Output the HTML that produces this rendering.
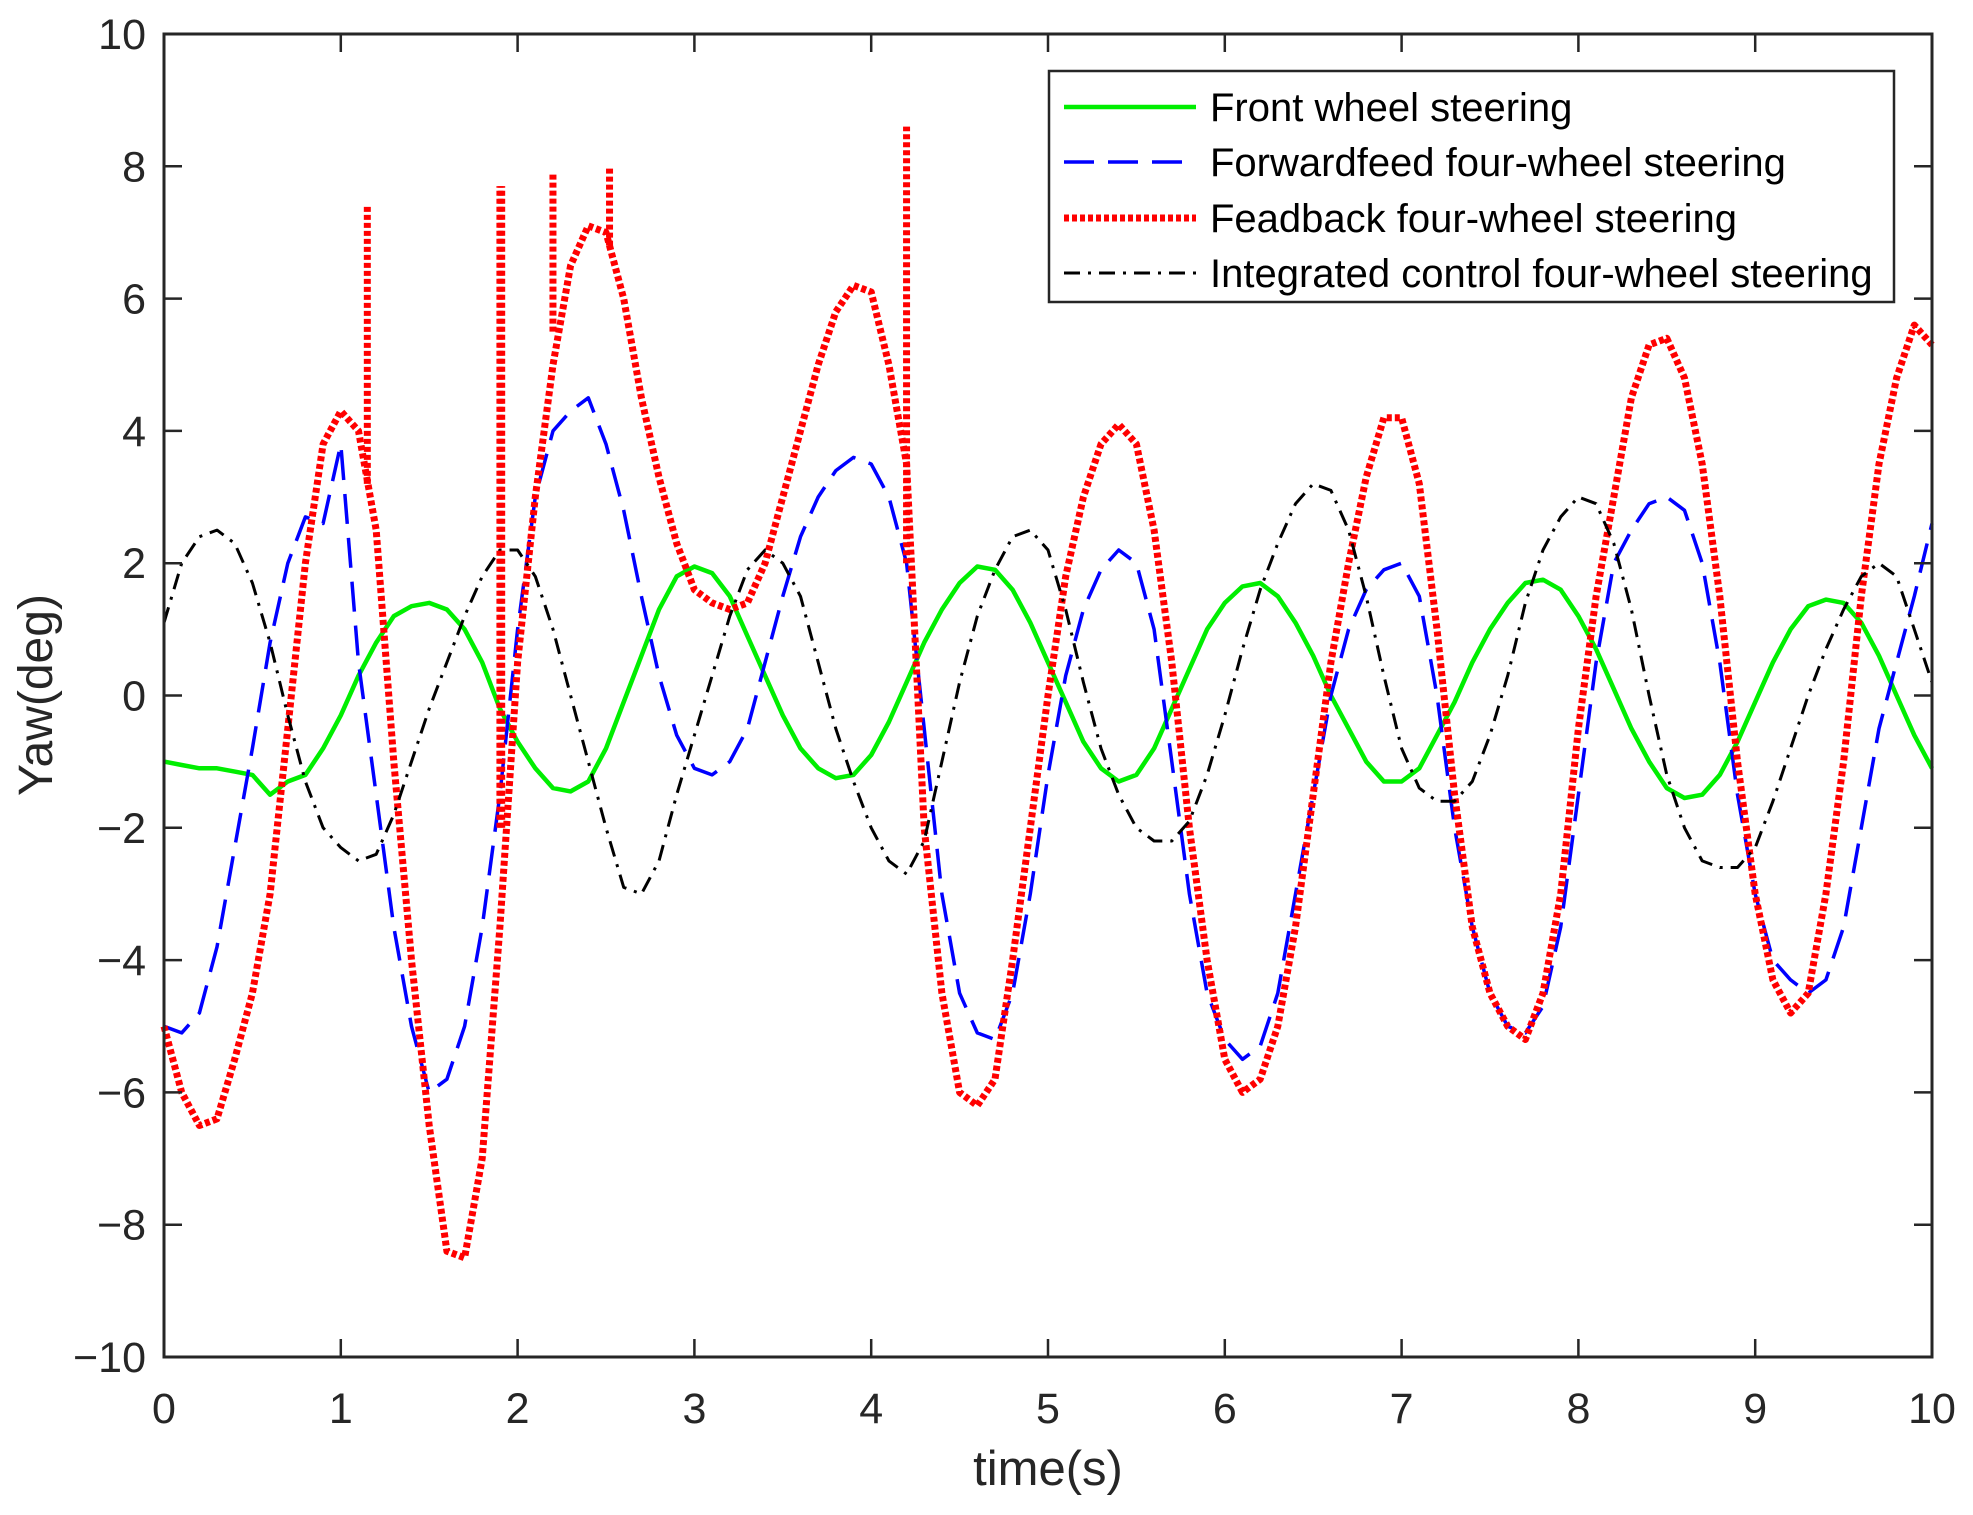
<!DOCTYPE html>
<html><head><meta charset="utf-8"><style>
html,body{margin:0;padding:0;background:#fff;}
svg{display:block;font-family:"Liberation Sans",Arial,sans-serif;}
</style></head><body>
<svg id="chart" width="1973" height="1515" viewBox="0 0 1973 1515" xmlns="http://www.w3.org/2000/svg">
<g id="series"></g>
<g id="axes"></g>
<text x="0" y="0" font-size="48" fill="#262626" text-anchor="middle" transform="translate(52,695) rotate(-90)">Yaw(deg)</text>
<text x="1048" y="1485" font-size="49" fill="#262626" text-anchor="middle">time(s)</text>
<g id="legend"></g>
</svg>
<script>
const times = [0,0.1,0.2,0.3,0.4,0.5,0.6,0.7,0.8,0.9,1.0,1.1,1.2,1.3,1.4,1.5,1.6,1.7,1.8,1.9,2.0,2.1,2.2,2.3,2.4,2.5,2.6,2.7,2.8,2.9,3.0,3.1,3.2,3.3,3.4,3.5,3.6,3.7,3.8,3.9,4.0,4.1,4.2,4.3,4.4,4.5,4.6,4.7,4.8,4.9,5.0,5.1,5.2,5.3,5.4,5.5,5.6,5.7,5.8,5.9,6.0,6.1,6.2,6.3,6.4,6.5,6.6,6.7,6.8,6.9,7.0,7.1,7.2,7.3,7.4,7.5,7.6,7.7,7.8,7.9,8.0,8.1,8.2,8.3,8.4,8.5,8.6,8.7,8.8,8.9,9.0,9.1,9.2,9.3,9.4,9.5,9.6,9.7,9.8,9.9,10.0];
const frontWheel = [-1,-1.05,-1.1,-1.1,-1.15,-1.2,-1.5,-1.3,-1.2,-0.8,-0.3,0.3,0.8,1.2,1.35,1.4,1.3,1.0,0.5,-0.2,-0.7,-1.1,-1.4,-1.45,-1.3,-0.8,-0.1,0.6,1.3,1.8,1.95,1.85,1.5,0.9,0.3,-0.3,-0.8,-1.1,-1.25,-1.2,-0.9,-0.4,0.2,0.8,1.3,1.7,1.95,1.9,1.6,1.1,0.5,-0.1,-0.7,-1.1,-1.3,-1.2,-0.8,-0.2,0.4,1.0,1.4,1.65,1.7,1.5,1.1,0.6,0.0,-0.5,-1.0,-1.3,-1.3,-1.1,-0.6,-0.1,0.5,1.0,1.4,1.7,1.75,1.6,1.2,0.7,0.1,-0.5,-1.0,-1.4,-1.55,-1.5,-1.2,-0.7,-0.1,0.5,1.0,1.35,1.45,1.4,1.1,0.6,0.0,-0.6,-1.1];
const forwardfeed = [-5.0,-5.1,-4.8,-3.8,-2.3,-0.8,0.8,2.0,2.7,2.6,3.8,0.5,-1.5,-3.5,-5.0,-6.0,-5.8,-5.0,-3.5,-1.5,1.0,3.0,4.0,4.3,4.5,3.8,2.8,1.5,0.3,-0.6,-1.1,-1.2,-1.0,-0.5,0.5,1.5,2.4,3.0,3.4,3.6,3.5,3.0,2.0,-0.5,-3.0,-4.5,-5.1,-5.2,-4.5,-3.0,-1.2,0.3,1.3,1.9,2.2,2.0,1.0,-1.0,-3.0,-4.5,-5.2,-5.5,-5.3,-4.5,-3.0,-1.5,0.0,1.0,1.6,1.9,2.0,1.5,0.0,-2.0,-3.5,-4.5,-5.0,-5.1,-4.7,-3.5,-1.5,0.5,2.0,2.5,2.9,3.0,2.8,2.0,0.5,-1.5,-3.0,-4.0,-4.3,-4.5,-4.3,-3.5,-2.0,-0.5,0.5,1.5,2.6];
const feedback = [-5.0,-6.0,-6.5,-6.4,-5.5,-4.5,-3.0,-0.5,2.0,3.8,4.3,4.0,2.5,-1.0,-4.0,-6.5,-8.4,-8.5,-7.0,-3.5,0.5,3.0,5.0,6.5,7.1,7.0,6.0,4.5,3.3,2.3,1.6,1.4,1.3,1.4,2.0,3.0,4.0,5.0,5.8,6.2,6.1,5.0,3.5,-2.0,-4.5,-6.0,-6.2,-5.8,-4.0,-2.0,0.0,1.8,3.0,3.8,4.1,3.8,2.5,0.5,-2.0,-4.0,-5.5,-6.0,-5.8,-5.0,-3.5,-1.5,0.5,2.0,3.3,4.2,4.2,3.2,1.0,-1.5,-3.5,-4.5,-5.0,-5.2,-4.5,-3.0,-0.5,1.5,3.0,4.5,5.3,5.4,4.8,3.5,1.5,-1.0,-3.0,-4.3,-4.8,-4.5,-3.0,-1.0,1.5,3.5,4.8,5.6,5.3];
const spikeTimes = [1.15,1.9,1.91,2.2,2.52,4.2];
const spikeTops = [7.4,7.7,7.7,7.9,8.0,8.6];
const spikeBottoms = [3.2,-2.0,-2.0,5.5,6.8,2.0];
const integrated = [1.1,2.0,2.4,2.5,2.3,1.7,0.8,-0.3,-1.3,-2.0,-2.3,-2.5,-2.4,-1.8,-1.0,-0.2,0.5,1.2,1.8,2.2,2.2,1.8,1.0,0.0,-1.0,-2.0,-2.9,-3.0,-2.5,-1.5,-0.6,0.3,1.2,1.9,2.2,2.0,1.5,0.5,-0.5,-1.3,-2.0,-2.5,-2.7,-2.2,-1.0,0.2,1.2,1.9,2.4,2.5,2.2,1.3,0.2,-0.8,-1.5,-2.0,-2.2,-2.2,-1.9,-1.2,-0.3,0.7,1.6,2.3,2.9,3.2,3.1,2.5,1.5,0.3,-0.8,-1.4,-1.6,-1.6,-1.3,-0.6,0.3,1.4,2.2,2.7,3.0,2.9,2.3,1.3,0.0,-1.2,-2.0,-2.5,-2.6,-2.6,-2.3,-1.6,-0.8,0.0,0.7,1.3,1.8,2.0,1.8,1.0,0.2];
const xTicks = [0,1,2,3,4,5,6,7,8,9,10];
const yTicks = [-10,-8,-6,-4,-2,0,2,4,6,8,10];
const legendLabels = ["Front wheel steering","Forwardfeed four-wheel steering","Feadback four-wheel steering","Integrated control four-wheel steering"];

const L=164,R=1932,T=34,B=1357;
const X=t=>L+(t-0)/(10-0)*(R-L);
const Y=v=>B-(v+10)/20*(B-T);
const NS="http://www.w3.org/2000/svg";
function mk(tag,attrs,parent){const e=document.createElementNS(NS,tag);for(const k in attrs)e.setAttribute(k,attrs[k]);parent.appendChild(e);return e;}
const S=document.getElementById('series'),A=document.getElementById('axes'),LG=document.getElementById('legend');
function pts(arr){return arr.map((v,i)=>X(times[i]).toFixed(1)+','+Y(v).toFixed(1)).join(' ');}
const styles=[
 {data:frontWheel,stroke:'#00ee00',w:4.5,dash:'',name:'front-wheel-line'},
 {data:forwardfeed,stroke:'#0000ff',w:3.5,dash:'30 14',name:'forwardfeed-line'},
 {data:feedback,stroke:'#ff0000',w:7,dash:'5 3',name:'feedback-line'},
 {data:integrated,stroke:'#000000',w:3,dash:'16 8 3 8',name:'integrated-line'}];
styles.forEach(s=>{
 const p=mk('polyline',{points:pts(s.data),fill:'none',stroke:s.stroke,'stroke-width':s.w,'stroke-dasharray':s.dash,'stroke-linejoin':'round'},S);
 
 
});
spikeTimes.forEach((t,i)=>{
 const l=mk('line',{x1:X(t),x2:X(t),y1:Y(spikeBottoms[i]),y2:Y(spikeTops[i]),stroke:'#ff0000','stroke-width':7,'stroke-dasharray':'5 3'},S);
 
 
});
const box=mk('rect',{x:L,y:T,width:R-L,height:B-T,fill:'none',stroke:'#262626','stroke-width':3},A);


xTicks.forEach(t=>{
 const x=X(t);
 mk('line',{x1:x,x2:x,y1:B,y2:B-18,stroke:'#262626','stroke-width':2.5},A);
 mk('line',{x1:x,x2:x,y1:T,y2:T+18,stroke:'#262626','stroke-width':2.5},A);
 const tx=mk('text',{x:x,y:1423,'font-size':43,fill:'#262626','text-anchor':'middle'},A);
 tx.textContent=t;
 
 
});
yTicks.forEach(v=>{
 const y=Y(v);
 mk('line',{x1:L,x2:L+18,y1:y,y2:y,stroke:'#262626','stroke-width':2.5},A);
 mk('line',{x1:R,x2:R-18,y1:y,y2:y,stroke:'#262626','stroke-width':2.5},A);
 const tx=mk('text',{x:146,y:y+15,'font-size':43,fill:'#262626','text-anchor':'end'},A);
 tx.textContent=v<0?'\u2212'+(-v):String(v);
 
 
});
const lb=mk('rect',{x:1049,y:71,width:845,height:231,fill:'#fff',stroke:'#262626','stroke-width':2.5},LG);


const ly=[107,162,218,273];
styles.forEach((s,i)=>{
 const g=mk('g',{},LG);
 
 
 mk('line',{x1:1064,x2:1196,y1:ly[i],y2:ly[i],stroke:s.stroke,'stroke-width':s.w,'stroke-dasharray':s.dash},g);
 const tx=mk('text',{x:1210,y:ly[i]+14,'font-size':40,fill:'#000'},g);
 tx.textContent=legendLabels[i];
});
</script>
</body></html>
